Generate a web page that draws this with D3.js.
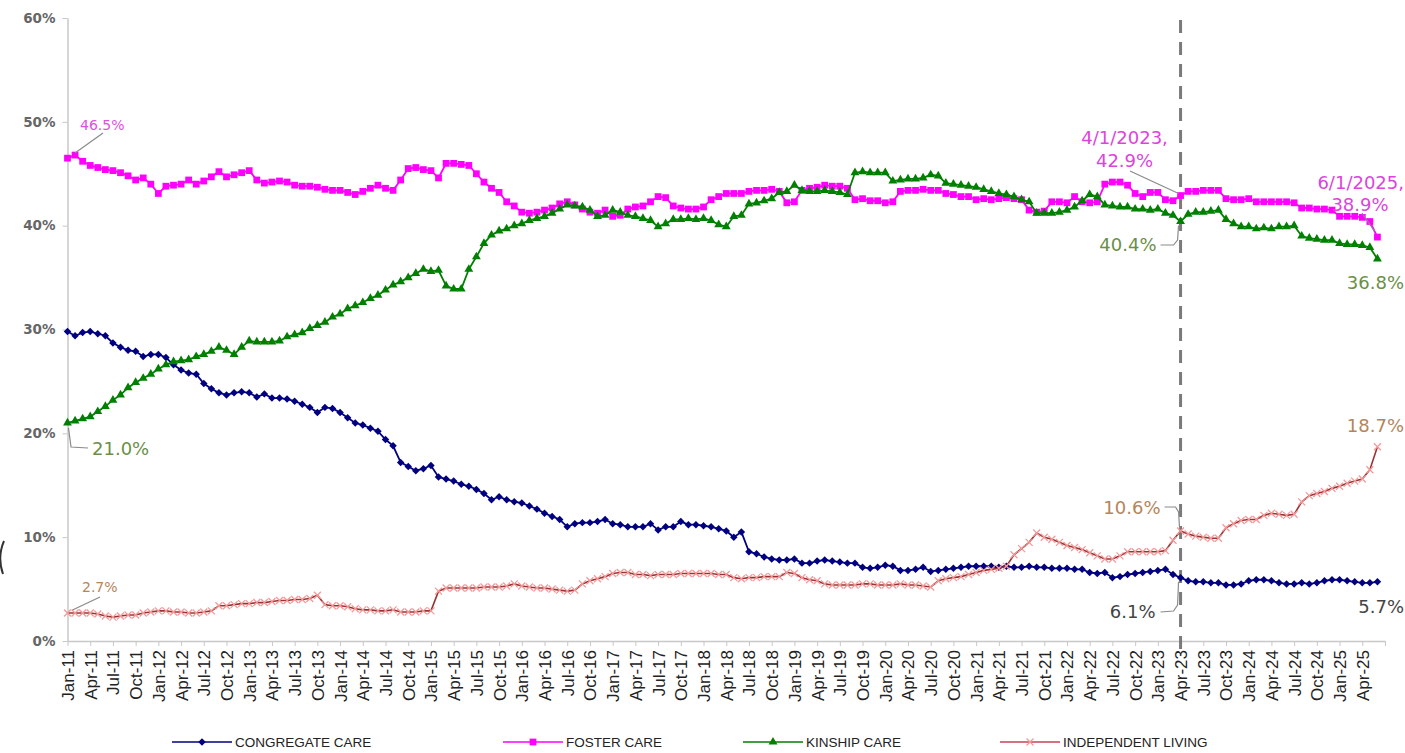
<!DOCTYPE html>
<html>
<head>
<meta charset="utf-8">
<script src="https://cdn.jsdelivr.net/npm/d3@7"></script>
<style>
  body { margin: 0; background: #fff; overflow: hidden; }
  svg { display: block; }
</style>
</head>
<body>
<div id="app"></div>
<script>
// quarterly tick labels, Jan-11 .. Apr-25
const tickLabels = [
  "Jan-11","Apr-11","Jul-11","Oct-11","Jan-12","Apr-12","Jul-12","Oct-12",
  "Jan-13","Apr-13","Jul-13","Oct-13","Jan-14","Apr-14","Jul-14","Oct-14",
  "Jan-15","Apr-15","Jul-15","Oct-15","Jan-16","Apr-16","Jul-16","Oct-16",
  "Jan-17","Apr-17","Jul-17","Oct-17","Jan-18","Apr-18","Jul-18","Oct-18",
  "Jan-19","Apr-19","Jul-19","Oct-19","Jan-20","Apr-20","Jul-20","Oct-20",
  "Jan-21","Apr-21","Jul-21","Oct-21","Jan-22","Apr-22","Jul-22","Oct-22",
  "Jan-23","Apr-23","Jul-23","Oct-23","Jan-24","Apr-24","Jul-24","Oct-24",
  "Jan-25","Apr-25"
]
const yTicks = [0, 10, 20, 30, 40, 50, 60]

// monthly shares (%), Jan-11 .. Jun-25
const congregate = [
  29.8,29.4,29.7,29.8,29.6,29.4,28.7,28.3,28.0,27.9,27.4,27.6,
  27.6,27.3,26.6,26.1,25.8,25.7,24.8,24.3,23.9,23.7,23.9,24.0,
  23.9,23.5,23.8,23.4,23.4,23.3,23.1,22.8,22.5,22.0,22.5,22.4,
  22.0,21.5,21.0,20.8,20.5,20.2,19.4,18.8,17.2,16.8,16.4,16.6,
  16.9,15.8,15.6,15.4,15.1,14.9,14.6,14.2,13.6,13.9,13.6,13.4,
  13.3,13.0,12.7,12.3,12.0,11.7,11.0,11.3,11.4,11.4,11.5,11.7,
  11.3,11.2,11.0,11.0,11.0,11.3,10.7,11.0,11.0,11.5,11.2,11.2,
  11.1,11.0,10.8,10.6,10.0,10.5,8.6,8.4,8.1,7.9,7.8,7.8,
  7.9,7.5,7.5,7.7,7.8,7.7,7.6,7.5,7.5,7.1,7.0,7.1,
  7.3,7.2,6.8,6.8,6.9,7.1,6.7,6.8,6.9,7.0,7.1,7.2,
  7.2,7.2,7.2,7.1,7.2,7.1,7.1,7.2,7.1,7.1,7.0,7.0,
  7.0,6.9,6.9,6.6,6.5,6.6,6.1,6.2,6.4,6.5,6.6,6.7,
  6.8,6.9,6.4,6.1,5.8,5.7,5.7,5.6,5.6,5.4,5.4,5.5,
  5.8,5.9,5.9,5.8,5.6,5.5,5.5,5.6,5.5,5.6,5.8,5.9,
  5.9,5.8,5.7,5.6,5.6,5.7
]
const foster = [
  46.5,46.8,46.2,45.8,45.6,45.4,45.3,45.1,44.8,44.4,44.6,44.0,
  43.1,43.8,43.9,44.0,44.4,44.0,44.3,44.7,45.2,44.7,44.9,45.1,
  45.3,44.4,44.1,44.2,44.3,44.2,43.9,43.8,43.8,43.7,43.5,43.4,
  43.4,43.2,43.0,43.3,43.6,43.9,43.6,43.4,44.4,45.5,45.6,45.4,
  45.3,44.6,46.0,46.0,45.9,45.8,45.0,44.2,43.6,43.2,42.3,41.9,
  41.3,41.2,41.3,41.5,41.7,42.1,42.3,42.0,41.6,41.3,41.2,41.5,
  40.9,41.0,41.6,41.8,41.9,42.3,42.8,42.7,41.9,41.7,41.6,41.6,
  41.8,42.5,42.8,43.1,43.1,43.1,43.3,43.4,43.4,43.5,43.3,42.2,
  42.3,43.4,43.6,43.7,43.9,43.8,43.8,43.6,42.5,42.6,42.4,42.4,
  42.2,42.3,43.3,43.4,43.4,43.5,43.4,43.4,43.1,43.0,42.8,42.8,
  42.5,42.6,42.5,42.6,42.7,42.6,42.5,41.5,41.3,41.4,42.3,42.3,
  42.2,42.8,42.3,42.2,42.3,44.0,44.2,44.2,43.9,43.1,42.8,43.2,
  43.2,42.5,42.4,42.9,43.3,43.3,43.4,43.4,43.4,42.6,42.5,42.5,
  42.6,42.3,42.3,42.3,42.3,42.3,42.2,41.7,41.7,41.6,41.6,41.5,
  40.9,40.9,40.9,40.8,40.4,38.9
]
const kinship = [
  21.0,21.2,21.4,21.6,22.1,22.6,23.2,23.7,24.4,24.9,25.3,25.7,
  26.2,26.6,26.9,27.0,27.1,27.4,27.6,27.9,28.3,28.0,27.6,28.3,
  28.9,28.8,28.8,28.8,28.9,29.3,29.5,29.7,30.1,30.4,30.7,31.2,
  31.5,32.0,32.3,32.6,33.0,33.3,33.8,34.3,34.6,35.0,35.4,35.8,
  35.6,35.7,34.2,33.9,33.9,35.8,37.0,38.3,39.1,39.5,39.7,40.0,
  40.2,40.5,40.7,40.9,41.2,41.6,42.0,41.9,41.8,41.5,40.9,41.0,
  41.5,41.3,41.0,40.9,40.7,40.5,39.9,40.2,40.6,40.6,40.7,40.6,
  40.7,40.5,40.1,39.9,40.9,41.0,42.1,42.2,42.4,42.6,43.2,43.3,
  43.9,43.4,43.3,43.3,43.4,43.3,43.2,43.0,45.1,45.2,45.1,45.1,
  45.1,44.3,44.4,44.5,44.5,44.6,44.9,44.8,44.1,44.0,43.9,43.8,
  43.7,43.5,43.3,43.1,43.0,42.8,42.5,42.3,41.2,41.2,41.2,41.3,
  41.5,41.8,42.4,43.0,42.8,42.0,41.9,41.8,41.8,41.6,41.6,41.5,
  41.6,41.2,41.0,40.4,41.1,41.3,41.3,41.4,41.5,40.6,40.2,39.9,
  39.9,39.7,39.8,39.7,39.9,39.9,40.0,39.0,38.8,38.7,38.6,38.6,
  38.3,38.2,38.2,38.1,37.9,36.8
]
const independent = [
  2.7,2.7,2.7,2.7,2.6,2.4,2.3,2.4,2.5,2.5,2.7,2.8,
  2.9,2.9,2.8,2.8,2.7,2.7,2.8,2.9,3.4,3.4,3.5,3.6,
  3.6,3.7,3.7,3.8,3.9,3.9,4.0,4.0,4.1,4.4,3.5,3.4,
  3.4,3.3,3.1,3.0,3.0,2.9,2.9,3.0,2.8,2.8,2.8,2.9,
  2.9,4.8,5.1,5.1,5.1,5.1,5.1,5.2,5.2,5.2,5.3,5.5,
  5.3,5.2,5.1,5.1,5.0,4.9,4.8,4.9,5.5,5.8,6.0,6.2,
  6.5,6.6,6.6,6.4,6.4,6.3,6.4,6.4,6.4,6.5,6.5,6.5,
  6.5,6.5,6.4,6.4,6.1,6.0,6.1,6.1,6.2,6.2,6.2,6.6,
  6.5,6.1,5.9,5.8,5.5,5.4,5.4,5.4,5.4,5.5,5.5,5.4,
  5.4,5.4,5.5,5.4,5.4,5.3,5.2,5.8,6.0,6.1,6.2,6.4,
  6.6,6.8,6.9,7.0,7.2,8.3,8.9,9.5,10.4,10.0,9.8,9.5,
  9.2,9.0,8.8,8.5,8.2,7.9,7.9,8.2,8.6,8.6,8.6,8.6,
  8.6,8.7,9.7,10.6,10.3,10.1,10.0,9.9,9.9,10.9,11.3,11.6,
  11.7,11.7,12.1,12.3,12.2,12.1,12.2,13.4,14.0,14.2,14.4,14.7,
  14.9,15.2,15.4,15.6,16.5,18.7
]
const seriesNames = ["CONGREGATE CARE", "FOSTER CARE", "KINSHIP CARE", "INDEPENDENT LIVING"]
const markIndex = 147 // Apr-23

const svg = d3.select('#app').append('svg')
  .attr('width', 1405)
  .attr('height', 753)

const xScale = d3.scaleLinear().domain([0, 174]).range([67.5, 1385])
const yScale = d3.scaleLinear().domain([0, 60]).range([641, 18])

// y axis
svg.append('g')
  .attr('transform', 'translate(67.5,0)')
  .call(d3.axisLeft(yScale).tickValues(yTicks).tickFormat(d => d + '%').tickSize(5).tickSizeOuter(0).tickPadding(7))
  .call(g => g.select('.domain').attr('stroke', '#c8c8c8').attr('stroke-width', 1.5))
  .call(g => g.selectAll('.tick line').attr('stroke', '#c8c8c8'))
  .call(g => g.selectAll('text').attr('fill', '#666').style('font-weight', 'bold')
    .style('font-family', '"DejaVu Sans"').style('font-size', '13.5px'))

// x axis
svg.append('g')
  .attr('transform', 'translate(0,641)')
  .call(d3.axisBottom(xScale).tickValues(d3.range(0, 175, 3)).tickFormat(i => tickLabels[i / 3] || '').tickSize(5).tickSizeOuter(0))
  .call(g => g.select('.domain').attr('stroke', '#c8c8c8').attr('stroke-width', 1.5))
  .call(g => g.selectAll('.tick line').attr('stroke', '#c8c8c8'))
  .call(g => g.selectAll('text')
    .attr('transform', 'rotate(-90)')
    .attr('x', -9).attr('y', 0).attr('dy', '0.35em')
    .style('text-anchor', 'end')
    .attr('fill', '#222')
    .style('font-family', '"Liberation Sans"').style('font-size', '17px'))

// dashed marker line at Apr-23
svg.append('line')
  .attr('x1', xScale(markIndex)).attr('x2', xScale(markIndex))
  .attr('y1', 20).attr('y2', 652)
  .attr('stroke', '#7a7a7a').attr('stroke-width', 3)
  .attr('stroke-dasharray', '13,9')

const line = d3.line().x((d, i) => xScale(i)).y(d => yScale(d))

const series = [
  {name: seriesNames[0], values: congregate, color: '#000080', mark: 'diamond'},
  {name: seriesNames[1], values: foster, color: '#ff00ff', mark: 'square'},
  {name: seriesNames[2], values: kinship, color: '#008000', mark: 'triangle'},
  {name: seriesNames[3], values: independent, color: '#993333', mark: 'x'}
]

function addMarkers(g, pts, mark, color) {
  const m = g.selectAll('path.m').data(pts).enter().append('path').attr('class', 'm')
    .attr('transform', d => `translate(${d[0]},${d[1]})` + (mark === 'diamond' ? ' rotate(45)' : ''))
  if (mark === 'diamond') m.attr('d', d3.symbol(d3.symbolSquare, 28)()).attr('fill', color)
  if (mark === 'square') m.attr('d', d3.symbol(d3.symbolSquare, 46)()).attr('fill', color)
  if (mark === 'triangle') m.attr('d', d3.symbol(d3.symbolTriangle, 34)()).attr('fill', color)
  if (mark === 'x') m.attr('d', 'M-3.5,-3.5L3.5,3.5M-3.5,3.5L3.5,-3.5').attr('fill', 'none')
    .attr('stroke', '#f49a9a').attr('stroke-width', 1.3)
}

series.forEach(s => {
  const g = svg.append('g')
  g.append('path').datum(s.values)
    .attr('d', line)
    .attr('fill', 'none')
    .attr('stroke', s.color)
    .attr('stroke-width', s.mark === 'x' ? 1.6 : 1.8)
  addMarkers(g, s.values.map((v, i) => [xScale(i), yScale(v)]), s.mark, s.color)
})

// legend
const legendX = [172, 503, 743, 1000]
series.forEach((s, k) => {
  const g = svg.append('g').attr('transform', `translate(${legendX[k]},742)`)
  g.append('line').attr('x1', 0).attr('x2', 60).attr('y1', 0).attr('y2', 0)
    .attr('stroke', s.mark === 'x' ? '#c8405a' : s.color).attr('stroke-width', 1.6)
  addMarkers(g, [[30, 0]], s.mark, s.color)
  g.append('text').attr('x', 63).attr('y', 0).attr('dy', '0.36em')
    .attr('fill', '#222')
    .style('font-family', '"Liberation Sans"').style('font-size', '13.5px')
    .text(s.name)
})

// callouts
function label(x, y, lines, color, size, anchor) {
  const t = svg.append('text')
    .attr('fill', color)
    .style('font-family', '"DejaVu Sans"').style('font-size', size + 'px')
    .attr('text-anchor', anchor)
  lines.forEach((s, k) => {
    t.append('tspan').attr('x', x).attr('y', y + k * size * 1.25).attr('dy', '0.36em').text(s)
  })
}
function leader(pts) {
  svg.append('path').attr('d', d3.line()(pts))
    .attr('fill', 'none').attr('stroke', '#8a8a8a').attr('stroke-width', 1.2)
}

const last = foster.length - 1
const mx = xScale(markIndex)

label(80, 125, [foster[0].toFixed(1) + '%'], '#e050e0', 14, 'start')
leader([[103, 133], [xScale(1), yScale(foster[1]) - 2]])

label(92, 449, [kinship[0].toFixed(1) + '%'], '#6b8f47', 18, 'start')
leader([[xScale(0) + 1, yScale(kinship[0]) + 5], [71, 447], [88, 448]])

label(82, 587, [independent[0].toFixed(1) + '%'], '#b5855a', 14, 'start')
leader([[100, 597], [xScale(0) + 5, yScale(independent[0]) - 3]])

label(mx - 56, 138, ['4/1/2023,', foster[markIndex].toFixed(1) + '%'], '#dd44dd', 18, 'middle')
leader([[1130, 171], [mx - 2, yScale(foster[markIndex]) - 2]])

label(mx - 24, 245, [kinship[markIndex].toFixed(1) + '%'], '#6b8f47', 18, 'end')
leader([[mx - 20, 245], [mx - 7, 245], [mx - 3, 240], [mx - 2, yScale(kinship[markIndex]) + 4]])

label(mx - 20, 508, [independent[markIndex].toFixed(1) + '%'], '#b5855a', 18, 'end')
leader([[mx - 16, 507], [mx - 5, 507], [mx - 2, 512], [mx - 1, yScale(independent[markIndex]) - 3]])

label(mx - 25, 612, [congregate[markIndex].toFixed(1) + '%'], '#444', 18, 'end')
leader([[mx - 20, 612], [mx - 7, 611], [mx - 3, 605], [mx - 2, yScale(congregate[markIndex]) + 4]])

label(1404, 183, ['6/1/2025,'], '#dd44dd', 18, 'end')
label(1360, 205, [foster[last].toFixed(1) + '%'], '#dd44dd', 18, 'middle')
leader([[1362, 213], [xScale(last) - 3, yScale(foster[last]) - 6]])

label(1404, 283, [kinship[last].toFixed(1) + '%'], '#6b8f47', 18, 'end')
label(1404, 426, [independent[last].toFixed(1) + '%'], '#b5855a', 18, 'end')
label(1404, 607, [congregate[last].toFixed(1) + '%'], '#444', 18, 'end')

// stray edge mark at the left border
svg.append('path').attr('d', 'M4,541 Q-3,557 3,574').attr('fill', 'none').attr('stroke', '#333').attr('stroke-width', 2)
</script>
</body>
</html>
